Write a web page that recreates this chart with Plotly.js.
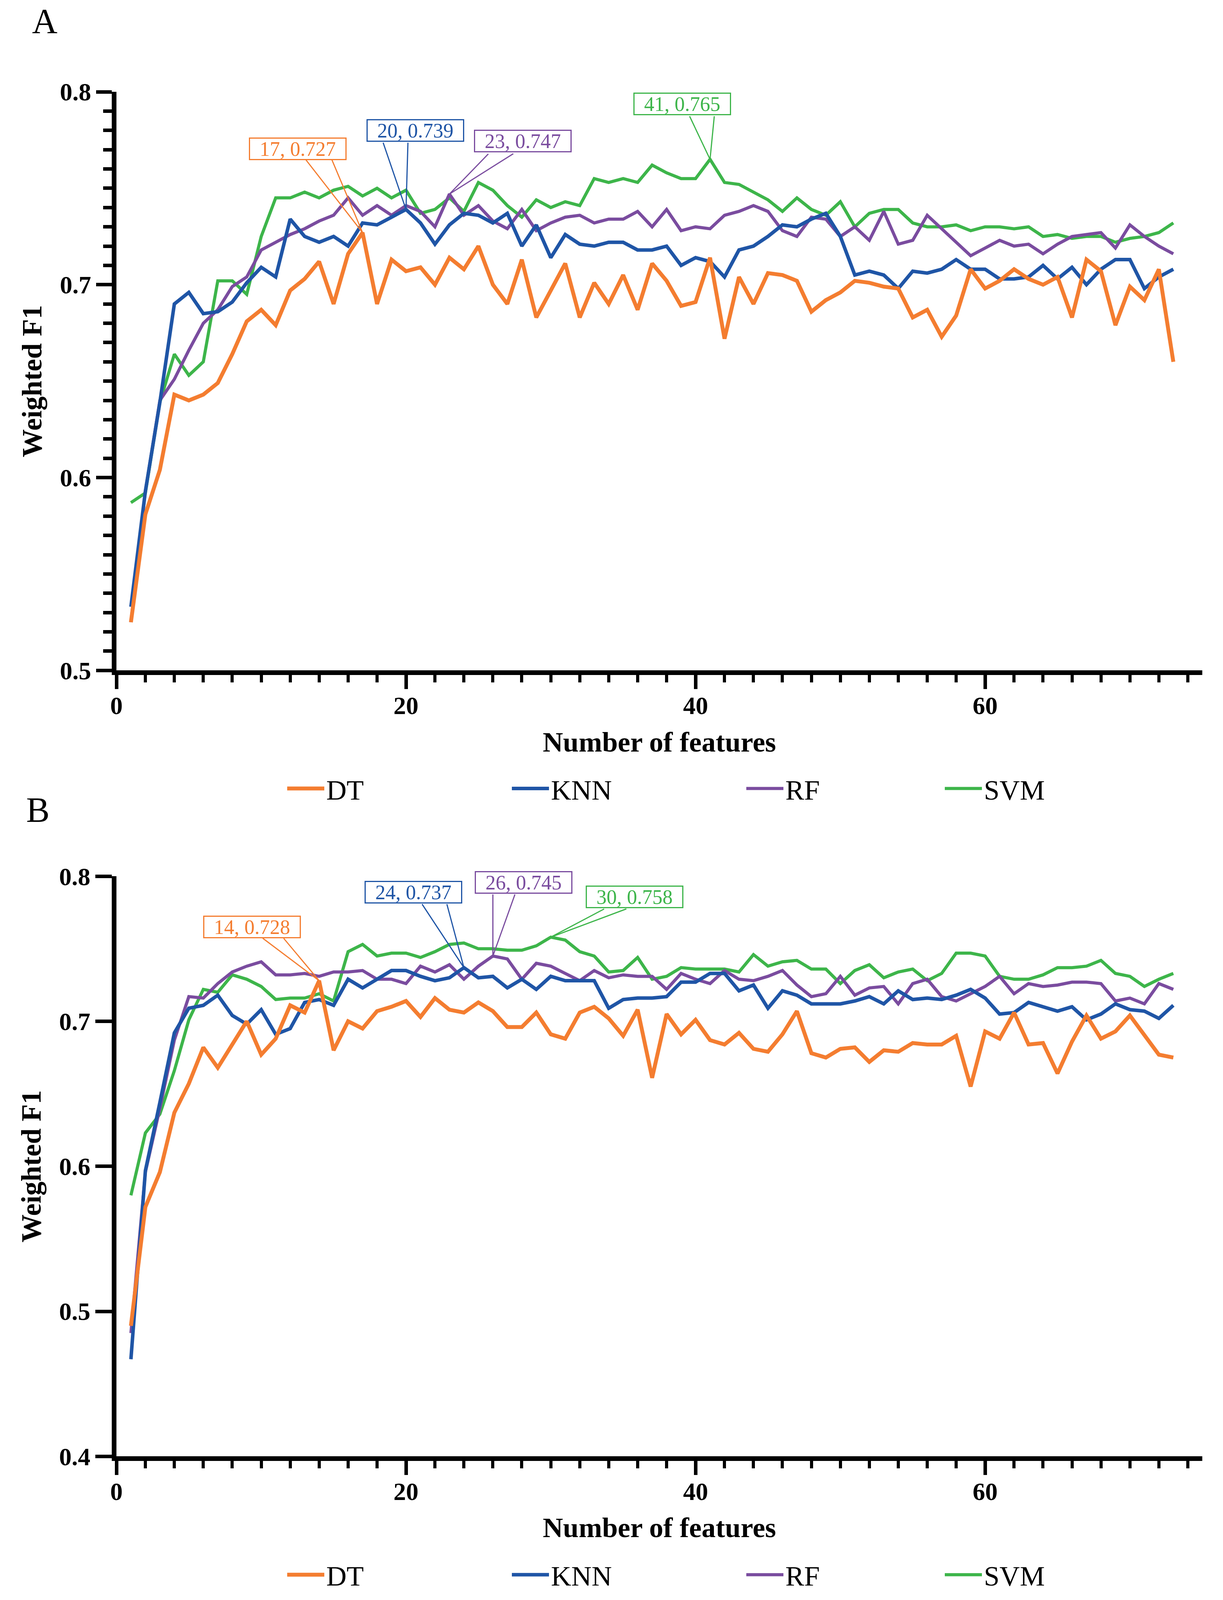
<!DOCTYPE html>
<html>
<head>
<meta charset="utf-8">
<script src="https://cdn.plot.ly/plotly-3.0.1.min.js"></script>
<style>html,body{margin:0;padding:0;background:#fff;overflow:hidden;}</style>
</head>
<body>
<div id="chart"></div>
<script>
// ---------------- DATA ----------------
const features = Array.from({length: 73}, (_, i) => i + 1);
const seriesNames = ['DT', 'KNN', 'RF', 'SVM'];

const A_DT = [0.525,0.581,0.604,0.643,0.640,0.643,0.649,0.664,0.681,0.687,0.679,0.697,0.703,0.712,0.690,0.716,0.727,0.690,0.713,0.707,
  0.709,0.700,0.714,0.708,0.720,0.700,0.690,0.713,0.683,0.697,0.711,0.683,0.701,0.690,0.705,0.687,0.711,0.702,0.689,0.691,
  0.714,0.672,0.704,0.690,0.706,0.705,0.702,0.686,0.692,0.696,0.702,0.701,0.699,0.698,0.683,0.687,0.673,0.684,0.708,0.698,
  0.702,0.708,0.703,0.700,0.704,0.683,0.713,0.707,0.679,0.699,0.692,0.708,0.660];
const A_KNN = [0.533,0.593,0.639,0.690,0.696,0.685,0.686,0.691,0.701,0.709,0.704,0.734,0.725,0.722,0.725,0.720,0.732,0.731,0.735,0.739,
  0.732,0.721,0.731,0.737,0.736,0.732,0.737,0.720,0.731,0.714,0.726,0.721,0.720,0.722,0.722,0.718,0.718,0.720,0.710,0.714,
  0.712,0.704,0.718,0.720,0.725,0.731,0.730,0.734,0.737,0.725,0.705,0.707,0.705,0.698,0.707,0.706,0.708,0.713,0.708,0.708,
  0.703,0.703,0.704,0.710,0.703,0.709,0.700,0.708,0.713,0.713,0.698,0.704,0.708];
const A_RF = [0.525,0.593,0.640,0.651,0.666,0.680,0.687,0.699,0.704,0.718,0.722,0.726,0.729,0.733,0.736,0.745,0.736,0.741,0.736,0.741,
  0.738,0.730,0.747,0.736,0.741,0.733,0.729,0.739,0.728,0.732,0.735,0.736,0.732,0.734,0.734,0.738,0.730,0.739,0.728,0.730,
  0.729,0.736,0.738,0.741,0.738,0.728,0.725,0.735,0.734,0.725,0.730,0.723,0.738,0.721,0.723,0.736,0.729,0.722,0.715,0.719,
  0.723,0.720,0.721,0.716,0.721,0.725,0.726,0.727,0.719,0.731,0.725,0.720,0.716];
const A_SVM = [0.587,0.592,0.639,0.664,0.653,0.660,0.702,0.702,0.695,0.725,0.745,0.745,0.748,0.745,0.749,0.751,0.746,0.750,0.745,0.749,
  0.737,0.739,0.745,0.738,0.753,0.749,0.741,0.735,0.744,0.740,0.743,0.741,0.755,0.753,0.755,0.753,0.762,0.758,0.755,0.755,
  0.765,0.753,0.752,0.748,0.744,0.738,0.745,0.739,0.736,0.743,0.730,0.737,0.739,0.739,0.732,0.730,0.730,0.731,0.728,0.730,
  0.730,0.729,0.730,0.725,0.726,0.724,0.725,0.725,0.722,0.724,0.725,0.727,0.732];

const B_DT = [0.490,0.572,0.596,0.637,0.657,0.682,0.668,0.684,0.700,0.677,0.688,0.711,0.706,0.728,0.680,0.700,0.695,0.707,0.710,0.714,
  0.703,0.716,0.708,0.706,0.713,0.707,0.696,0.696,0.706,0.691,0.688,0.706,0.710,0.702,0.690,0.708,0.661,0.705,0.691,0.701,
  0.687,0.684,0.692,0.681,0.679,0.691,0.707,0.678,0.675,0.681,0.682,0.672,0.680,0.679,0.685,0.684,0.684,0.690,0.655,0.693,
  0.688,0.706,0.684,0.685,0.664,0.686,0.704,0.688,0.693,0.704,0.690,0.677,0.675];
const B_KNN = [0.467,0.597,0.644,0.692,0.709,0.711,0.718,0.704,0.698,0.708,0.691,0.695,0.713,0.715,0.711,0.729,0.723,0.729,0.735,0.735,
  0.731,0.728,0.730,0.737,0.730,0.731,0.723,0.729,0.722,0.731,0.728,0.728,0.728,0.709,0.715,0.716,0.716,0.717,0.727,0.727,
  0.733,0.733,0.721,0.725,0.709,0.721,0.718,0.712,0.712,0.712,0.714,0.717,0.712,0.721,0.715,0.716,0.715,0.718,0.722,0.716,
  0.705,0.706,0.713,0.710,0.707,0.710,0.701,0.705,0.712,0.708,0.707,0.702,0.711];
const B_RF = [0.485,0.596,0.640,0.687,0.717,0.716,0.726,0.734,0.738,0.741,0.732,0.732,0.733,0.731,0.734,0.734,0.735,0.729,0.729,0.726,
  0.738,0.734,0.739,0.729,0.738,0.745,0.743,0.729,0.740,0.738,0.733,0.728,0.735,0.730,0.732,0.731,0.731,0.722,0.733,0.729,
  0.726,0.735,0.729,0.728,0.731,0.735,0.725,0.717,0.719,0.731,0.718,0.723,0.724,0.712,0.726,0.729,0.717,0.714,0.719,0.724,
  0.731,0.719,0.726,0.724,0.725,0.727,0.727,0.726,0.714,0.716,0.712,0.726,0.722];
const B_SVM = [0.580,0.623,0.636,0.666,0.701,0.722,0.720,0.732,0.729,0.724,0.715,0.716,0.716,0.719,0.714,0.748,0.753,0.745,0.747,0.747,
  0.744,0.748,0.753,0.754,0.750,0.750,0.749,0.749,0.752,0.758,0.756,0.748,0.745,0.734,0.735,0.744,0.729,0.731,0.737,0.736,
  0.736,0.736,0.734,0.746,0.738,0.741,0.742,0.736,0.736,0.726,0.735,0.739,0.730,0.734,0.736,0.728,0.733,0.747,0.747,0.745,
  0.731,0.729,0.729,0.732,0.737,0.737,0.738,0.742,0.733,0.731,0.724,0.729,0.733];

const xTickVals = [0, 20, 40, 60];
const xTickText = ['0', '20', '40', '60'];
const yTickValsA = [0.5, 0.6, 0.7, 0.8];
const yTickTextA = ['0.5', '0.6', '0.7', '0.8'];
const yTickValsB = [0.4, 0.5, 0.6, 0.7, 0.8];
const yTickTextB = ['0.4', '0.5', '0.6', '0.7', '0.8'];

// ---------------- STYLE ----------------
const REF_W = 3130, REF_H = 4322;
const vw = window.innerWidth || document.documentElement.clientWidth || REF_W;
const vh = window.innerHeight || document.documentElement.clientHeight || REF_H;
const W = Math.min(vw, REF_W);
const H = Math.min(vh, REF_H);
const sx = W / REF_W, sy = H / REF_H;
document.getElementById('chart').style.width = W + 'px';
document.getElementById('chart').style.height = H + 'px';
const px = v => v / REF_W;
const py = v => 1 - v / REF_H;
const SERIF = 'Liberation Serif, Times New Roman, serif';
const colors = {DT: '#F47D30', KNN: '#1F55A6', RF: '#7A4C9F', SVM: '#3DB54A'};
const widths = {DT: 10, KNN: 9, RF: 8, SVM: 8};
const drawOrder = ['SVM', 'RF', 'KNN', 'DT'];

const panels = [
  {key: 'A', xa: 'x', ya: 'y', data: {DT: A_DT, KNN: A_KNN, RF: A_RF, SVM: A_SVM}, legendY: 2130, legendBase: 1,
   callouts: {
     DT:  {x: 17, box: [-166, -226], tails: [[-146, -198], [-79, -198]]},
     KNN: {x: 20, box: [24, -213],  tails: [[-59, -182], [5, -182]]},
     RF:  {x: 23, box: [188, -143], tails: [[101, -110], [165, -110]]},
     SVM: {x: 41, box: [-71, -150], tails: [[-53, -118], [11, -118]]}
   }},
  {key: 'B', xa: 'x2', ya: 'y2', data: {DT: B_DT, KNN: B_KNN, RF: B_RF, SVM: B_SVM}, legendY: 4254, legendBase: 5,
   callouts: {
     DT:  {x: 14, box: [-172, -145], tails: [[-146, -116], [-92, -116]]},
     KNN: {x: 24, box: [-129, -204], tails: [[-108, -173], [-44, -173]]},
     RF:  {x: 26, box: [79, -199],   tails: [[0, -168], [57, -168]]},
     SVM: {x: 30, box: [214, -109],  tails: [[138, -77], [195, -77]]}
   }}
];
const legendSymbolX = {DT: 712, KNN: 1287, RF: 1887, SVM: 2395};

const legendName = n => (n === 1 ? 'legend' : 'legend' + n);

const traces = [];
const annotations = [];
const layout = {
  width: W, height: H,
  margin: {l: 0, r: 0, t: 0, b: 0, pad: 0, autoexpand: false},
  paper_bgcolor: '#fff', plot_bgcolor: '#fff',
  showlegend: true,
  font: {family: SERIF, color: '#000'},
  annotations: annotations
};

panels.forEach(p => {
  drawOrder.forEach(name => {
    const idx = seriesNames.indexOf(name);
    traces.push({
      type: 'scatter', mode: 'lines', name: name,
      x: features, y: p.data[name],
      xaxis: p.xa, yaxis: p.ya,
      line: {color: colors[name], width: widths[name]},
      legend: legendName(p.legendBase + idx),
      hoverinfo: 'skip'
    });
    layout[legendName(p.legendBase + idx)] = {
      x: px(legendSymbolX[name] + 18), xanchor: 'left',
      y: py(p.legendY), yanchor: 'middle',
      orientation: 'h', itemwidth: 95,
      bgcolor: 'rgba(0,0,0,0)', borderwidth: 0,
      font: {family: SERIF, size: 72, color: '#000'}
    };
    const c = p.callouts[name];
    const val = p.data[name][features.indexOf(c.x)];
    const col = colors[name];
    c.tails.forEach(t => annotations.push({
      xref: p.xa, yref: p.ya, x: c.x, y: val, text: '',
      showarrow: true, arrowhead: 0, arrowwidth: 3, arrowcolor: col,
      ax: t[0] * sx, ay: t[1] * sy, standoff: 0, startstandoff: 0
    }));
    annotations.push({
      xref: p.xa, yref: p.ya, x: c.x, y: val,
      text: c.x + ', ' + val.toFixed(3),
      showarrow: true, arrowcolor: 'rgba(0,0,0,0)', arrowwidth: 0.1, arrowhead: 0,
      ax: c.box[0] * sx, ay: c.box[1] * sy,
      font: {family: SERIF, size: 52, color: col},
      bordercolor: col, borderwidth: 3, borderpad: 0, bgcolor: '#fff',
      width: 244, height: Math.round(55 * sy)
    });
  });
});

function xAxis(anchor) {
  return {
    anchor: anchor, domain: [px(298), px(3077)], range: [0, 75],
    showgrid: false, zeroline: false, showline: true, linecolor: '#000', linewidth: 12,
    ticks: 'outside', ticklen: Math.round(38 * sy), tickwidth: 9, tickcolor: '#000',
    tickvals: xTickVals, ticktext: xTickText, ticklabelstandoff: Math.round(-14 * sy),
    tickfont: {family: SERIF, size: 64, weight: 'bold', color: '#000'},
    minor: {dtick: 2, tick0: 0, ticks: 'outside', ticklen: Math.round(20 * sy), tickwidth: 8, tickcolor: '#000'},
    title: {text: 'Number of features', standoff: Math.round(48 * sy) - (sy < 1 ? 8 : 0),
            font: {family: SERIF, size: 72, weight: 'bold', color: '#000'}},
    automargin: false, fixedrange: true
  };
}
layout.xaxis = xAxis('y');
layout.xaxis2 = xAxis('y2');
const yCommon = {
  showgrid: false, zeroline: false, showline: true, linecolor: '#000', linewidth: 12,
  ticks: 'outside', ticklen: 40, tickwidth: 9, tickcolor: '#000', tickformat: '.1f',
  tickfont: {family: SERIF, size: 64, weight: 'bold', color: '#000'},
  title: {text: 'Weighted F1', standoff: 28, font: {family: SERIF, size: 72, weight: 'bold', color: '#000'}},
  automargin: false, fixedrange: true
};
layout.yaxis = Object.assign({}, yCommon, {
  anchor: 'x', domain: [py(1811), py(248)], range: [0.5, 0.8],
  tickvals: yTickValsA, ticktext: yTickTextA,
  minor: {dtick: 0.01, tick0: 0.5, ticks: 'outside', ticklen: 22, tickwidth: 9, tickcolor: '#000'}
});
layout.yaxis2 = Object.assign({}, yCommon, {
  anchor: 'x2', domain: [py(3934), py(2367)], range: [0.4, 0.8], ticklen: 42,
  tickvals: yTickValsB, ticktext: yTickTextB
});

annotations.push({xref: 'paper', yref: 'paper', x: px(114), y: py(57), xanchor: 'center', yanchor: 'middle',
  text: 'A', showarrow: false, font: {family: SERIF, size: 90, color: '#000'}});
annotations.push({xref: 'paper', yref: 'paper', x: px(97), y: py(2188), xanchor: 'center', yanchor: 'middle',
  text: 'B', showarrow: false, font: {family: SERIF, size: 90, color: '#000'}});

Plotly.newPlot('chart', traces, layout, {staticPlot: true, displayModeBar: false});
</script>
</body>
</html>
